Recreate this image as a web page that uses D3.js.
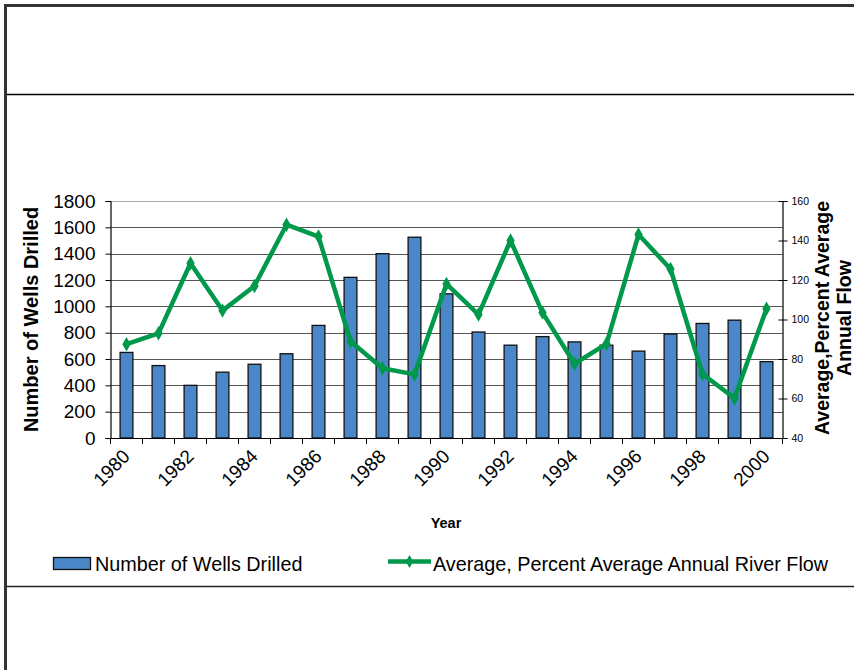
<!DOCTYPE html>
<html><head><meta charset="utf-8">
<script src="https://cdn.jsdelivr.net/npm/d3@7"></script>
<style>body{margin:0;background:#fff}svg{display:block;font-family:"Liberation Sans",Arial,sans-serif}</style>
</head><body><svg id="c" width="854" height="670"></svg>
<script>
const years = d3.range(1980, 2001).map(String);
const wells = [650, 550, 400, 500, 560, 640, 855, 1220, 1400, 1525, 1095, 805, 705, 770, 730, 705, 660, 790, 870, 895, 580];
const flow = [87.5, 93, 128.5, 104.5, 117, 148, 142, 89, 75.3, 72.2, 118, 102.5, 140, 103.5, 77.6, 87.7, 143, 125.6, 72.4, 60.1, 105.5];
const leftTicks = [0, 200, 400, 600, 800, 1000, 1200, 1400, 1600, 1800];
const rightTicks = [40, 60, 80, 100, 120, 140, 160];
const xLabels = ["1980","1982","1984","1986","1988","1990","1992","1994","1996","1998","2000"];

const svg = d3.select("#c");
const L = 110.5, R = 782.5, T = 201, B = 438;
const x = d3.scaleBand().domain(years).range([L, R]).padding(0);
const yL = d3.scaleLinear().domain([0, 1800]).range([B, T]);
const yR = d3.scaleLinear().domain([40, 160]).range([B, T]);

// frame
svg.append("path").attr("d", "M5.5,670 V5.5 H854").attr("fill", "none").attr("stroke", "#333").attr("stroke-width", 3);
svg.append("line").attr("x1", 7).attr("x2", 854).attr("y1", 94.5).attr("y2", 94.5).attr("stroke", "#000").attr("stroke-width", 1.3);
svg.append("line").attr("x1", 7).attr("x2", 854).attr("y1", 586.5).attr("y2", 586.5).attr("stroke", "#222").attr("stroke-width", 1.6);

// gridlines
svg.append("g").selectAll("line").data(leftTicks.slice(1)).join("line")
  .attr("x1", L).attr("x2", R).attr("y1", d => Math.round(yL(d)) + 0.5).attr("y2", d => Math.round(yL(d)) + 0.5)
  .attr("stroke", d => d === 1800 ? "#aaa" : "#555").attr("stroke-width", 1);

// bars
const bw = x.bandwidth() * 0.4;
svg.append("g").selectAll("rect").data(wells).join("rect")
  .attr("x", (d, i) => x(years[i]) + (x.bandwidth() - bw) / 2)
  .attr("width", bw)
  .attr("y", d => yL(d)).attr("height", d => B - yL(d))
  .attr("fill", "#4a87c8").attr("stroke", "#111").attr("stroke-width", 1.3);

// left axis
const gl = svg.append("g").attr("transform", `translate(${L},0)`)
  .call(d3.axisLeft(yL).tickValues(leftTicks).tickFormat(d3.format("d")).tickSize(5).tickPadding(10));
gl.select(".domain").attr("stroke", "#000").attr("stroke-width", 1.2);
gl.selectAll("text").attr("font-size", 19).attr("fill", "#000").attr("font-family", "Liberation Sans, Arial");

// right axis
const gr = svg.append("g").attr("transform", `translate(${R},0)`)
  .call(d3.axisRight(yR).tickValues(rightTicks).tickSize(5).tickPadding(4));
gr.select(".domain").attr("stroke", "#000").attr("stroke-width", 1.2);
gr.selectAll(".tick line").attr("x1", -4);
gr.selectAll("text").attr("font-size", 10.5).attr("fill", "#000").attr("font-family", "Liberation Sans, Arial");

// bottom axis (ticks at band boundaries)
const bounds = years.map(y => x(y)).concat([R]);
const gb = svg.append("g");
gb.append("line").attr("x1", L).attr("x2", R).attr("y1", B + 0.5).attr("y2", B + 0.5).attr("stroke", "#000").attr("stroke-width", 1.2);
gb.selectAll("line.t").data(bounds).join("line").attr("class", "t")
  .attr("x1", d => d).attr("x2", d => d).attr("y1", B).attr("y2", B + 6).attr("stroke", "#000");
gb.selectAll("text").data(xLabels).join("text")
  .attr("transform", d => `translate(${x(d) + x.bandwidth() / 2 - 5},${B + 10}) rotate(-45)`)
  .attr("text-anchor", "end").attr("dy", "0.71em").attr("font-size", 19).text(d => d);

// line
const lineGen = d3.line().x((d, i) => x(years[i]) + x.bandwidth() / 2).y(d => yR(d));
svg.append("path").datum(flow).attr("d", lineGen).attr("fill", "none")
  .attr("stroke", "#00994c").attr("stroke-width", 4.5).attr("stroke-linejoin", "round");
svg.append("g").selectAll("path").data(flow).join("path")
  .attr("d", d3.symbol(d3.symbolDiamond, 60))
  .attr("transform", (d, i) => `translate(${x(years[i]) + x.bandwidth() / 2},${yR(d)})`)
  .attr("fill", "#00994c");

// axis titles
svg.append("text").attr("transform", `translate(38,${(T + B) / 2}) rotate(-90)`)
  .attr("text-anchor", "middle").attr("font-weight", "bold").attr("font-size", 20).text("Number of Wells Drilled");
svg.append("text").attr("transform", `translate(829,318) rotate(-90)`)
  .attr("text-anchor", "middle").attr("font-weight", "bold").attr("font-size", 19.5).text("Average,Percent Average");
svg.append("text").attr("transform", `translate(851,318) rotate(-90)`)
  .attr("text-anchor", "middle").attr("font-weight", "bold").attr("font-size", 19.5).text("Annual Flow");
svg.append("text").attr("x", 446).attr("y", 528).attr("text-anchor", "middle")
  .attr("font-weight", "bold").attr("font-size", 14.5).text("Year");

// legend
svg.append("rect").attr("x", 53.5).attr("y", 557.5).attr("width", 37).attr("height", 12)
  .attr("fill", "#4a87c8").attr("stroke", "#111").attr("stroke-width", 1.3);
svg.append("text").attr("x", 95).attr("y", 571).attr("font-size", 19.8).text("Number of Wells Drilled");
svg.append("line").attr("x1", 388).attr("x2", 431).attr("y1", 561.5).attr("y2", 561.5)
  .attr("stroke", "#00994c").attr("stroke-width", 4.5);
svg.append("path").attr("d", d3.symbol(d3.symbolDiamond, 50)).attr("transform", "translate(409.5,561.5)").attr("fill", "#00994c");
svg.append("text").attr("x", 433).attr("y", 571).attr("font-size", 19.8).text("Average, Percent Average Annual River Flow");
</script></body></html>
